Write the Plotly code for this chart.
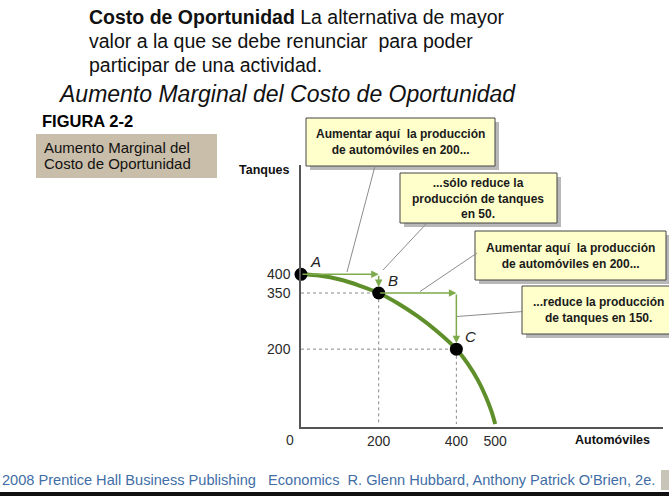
import plotly.graph_objects as go

# frontera de posibilidades de produccion (automoviles, tanques)
curve_autos = [0, 50, 100, 150, 200, 250, 300, 350, 400, 430, 455, 475, 490, 500]
curve_tanques = [400, 396, 386, 370, 350, 322, 288, 248, 200, 160, 118, 75, 35, 0]

point_labels = ["A", "B", "C"]
point_autos = [0, 200, 400]
point_tanques = [400, 350, 200]

x_ticks = [200, 400, 500]
y_ticks = [200, 350, 400]

W, H = 669, 496
CURVE_GREEN = "#5f8f2a"
ARROW_GREEN = "#7dab4c"
BOX_FILL = "#ffffcc"
SANS = "Liberation Sans, Arial, sans-serif"


def px(x):
    return x / W


def py(y):
    return 1 - y / H


fig = go.Figure()

# lineas punteadas de referencia para B y C
for xa, ya in zip(point_autos[1:], point_tanques[1:]):
    fig.add_trace(go.Scatter(x=[0, xa, xa], y=[ya, ya, 0], mode="lines",
                             line=dict(color="#8a8a8a", width=1, dash="dot"),
                             hoverinfo="skip", showlegend=False))

fig.add_trace(go.Scatter(x=curve_autos, y=curve_tanques, mode="lines",
                         line=dict(color=CURVE_GREEN, width=4, shape="spline"),
                         cliponaxis=False, showlegend=False))

fig.add_trace(go.Scatter(x=point_autos, y=point_tanques, mode="markers",
                         marker=dict(color="black", size=13),
                         cliponaxis=False, showlegend=False))

for lab, xa, ya in zip(point_labels, point_autos, point_tanques):
    fig.add_annotation(x=xa, y=ya, text=lab, showarrow=False, xshift=14, yshift=13,
                       font=dict(family=SANS, size=15, color="#222", style="italic"))

# flechas verdes: +200 automoviles, luego la caida de tanques
for i in range(2):
    x0, y0 = point_autos[i], point_tanques[i]
    x1, y1 = point_autos[i + 1], point_tanques[i + 1]
    fig.add_annotation(x=x1, y=y0, ax=x0, ay=y0, xref="x", yref="y", axref="x", ayref="y",
                       text="", showarrow=True, arrowhead=2, arrowsize=1, arrowwidth=1.5,
                       arrowcolor=ARROW_GREEN, standoff=0)
    fig.add_annotation(x=x1, y=y1, ax=x1, ay=y0, xref="x", yref="y", axref="x", ayref="y",
                       text="", showarrow=True, arrowhead=2, arrowsize=1, arrowwidth=1.5,
                       arrowcolor=ARROW_GREEN, standoff=6)

shapes = []

# cuadros de texto amarillos con sombra
boxes = [
    (306, 118, 495, 166, 400, 142, "Aumentar aquí  la producción<br>de automóviles en 200..."),
    (400, 173, 557, 223, 478, 198, "...sólo reduce la<br>producción de tanques<br>en 50."),
    (475, 231, 666, 280, 570, 256, "Aumentar aquí  la producción<br>de automóviles en 200..."),
    (522, 286, 676, 334, 598, 310, "...reduce la producción<br>de tanques en 150."),
]
for x0, y0, x1, y1, cx, cy, txt in boxes:
    shapes.append(dict(type="rect", xref="paper", yref="paper",
                       x0=px(x0 + 4), y0=py(y1 + 4), x1=px(x1 + 4), y1=py(y0 + 4),
                       fillcolor="#b8b8b8", line=dict(width=0), layer="above"))
    shapes.append(dict(type="rect", xref="paper", yref="paper",
                       x0=px(x0), y0=py(y1), x1=px(x1), y1=py(y0),
                       fillcolor=BOX_FILL, line=dict(color="#444", width=1), layer="above"))
    fig.add_annotation(x=px(cx), y=py(cy), xref="paper", yref="paper", text=txt,
                       showarrow=False, align="center", xanchor="center", yanchor="middle",
                       font=dict(family=SANS, size=12, color="#1a1a1a", weight="bold"))

# lineas guia grises
leaders = [((375, 166), (347, 272)), ((427, 223), (383, 270)),
           ((477, 253), (420, 291.5)), ((523, 311.5), (457, 316.5))]
for (xa, ya), (xb, yb) in leaders:
    shapes.append(dict(type="line", xref="paper", yref="paper",
                       x0=px(xa), y0=py(ya), x1=px(xb), y1=py(yb),
                       line=dict(color="#8c8c8c", width=1)))

# cuadro beige de la figura
shapes.append(dict(type="rect", xref="paper", yref="paper",
                   x0=px(36), y0=py(178), x1=px(217), y1=py(134),
                   fillcolor="#c9bea9", line=dict(width=0), layer="below"))
# borde inferior
shapes.append(dict(type="rect", xref="paper", yref="paper",
                   x0=0, y0=0, x1=1, y1=py(492),
                   fillcolor="#111", line=dict(width=0)))
shapes.append(dict(type="rect", xref="paper", yref="paper",
                   x0=px(661), y0=py(490), x1=px(669), y1=py(470),
                   fillcolor="#c8c4b8", line=dict(width=0)))

texts = [
    (87, 17, "<b>Costo de Oportunidad</b> La alternativa de mayor", 19.5, "left", "#111", "normal"),
    (87, 41, "valor a la que se debe renunciar  para poder", 19.5, "left", "#111", "normal"),
    (87, 65, "participar de una actividad.", 19.5, "left", "#111", "normal"),
    (56, 94, "Aumento Marginal del Costo de Oportunidad", 23, "left", "#111", "italic"),
    (40, 121, "<b>FIGURA 2-2</b>", 16.5, "left", "#000", "normal"),
    (42, 147, "Aumento Marginal del", 15, "left", "#111", "normal"),
    (42, 164, "Costo de Oportunidad", 15, "left", "#111", "normal"),
    (0, 480, "2008 Prentice Hall Business Publishing   Economics  R. Glenn Hubbard, Anthony Patrick O'Brien, 2e.",
     14.6, "left", "#3f6ea6", "normal"),
    (237, 170, "<b>Tanques</b>", 12.5, "left", "#111", "normal"),
    (573, 440, "<b>Automóviles</b>", 12.5, "left", "#111", "normal"),
    (290, 440, "0", 14, "center", "#333", "normal"),
]
for x, y, txt, size, anchor, color, style in texts:
    fig.add_annotation(x=px(x), y=py(y), xref="paper", yref="paper", text=txt,
                       showarrow=False, xanchor=anchor, yanchor="middle", align="left",
                       font=dict(family=SANS, size=size, color=color, style=style))

fig.update_layout(
    width=W, height=H,
    margin=dict(l=0, r=0, t=0, b=0),
    paper_bgcolor="white", plot_bgcolor="white",
    shapes=shapes,
    xaxis=dict(domain=[px(301), px(663)], range=[0, 932], tickvals=x_ticks,
               showgrid=False, zeroline=False, showline=True, linecolor="#555", linewidth=1.5,
               ticks="", tickfont=dict(family=SANS, size=14, color="#2a2a2a")),
    yaxis=dict(domain=[py(427), py(165)], range=[-8, 692], tickvals=y_ticks,
               showgrid=False, zeroline=False, showline=True, linecolor="#555", linewidth=1.5,
               ticks="", ticklabelstandoff=6, tickfont=dict(family=SANS, size=14, color="#2a2a2a")),
)

# sin margen del body para que la figura empiece en la esquina
fig.write_html("out.html", config={"displayModeBar": False},
               post_script="document.body.style.margin='0';")
